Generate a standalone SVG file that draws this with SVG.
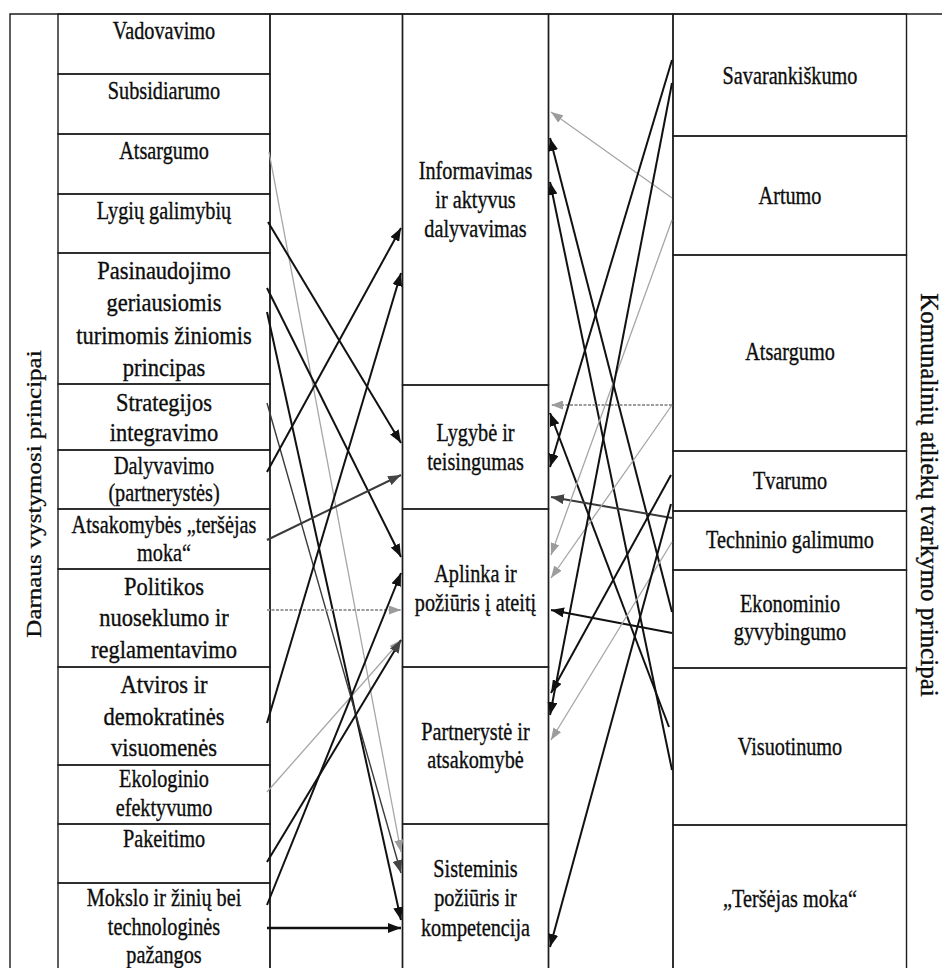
<svg xmlns="http://www.w3.org/2000/svg" width="942" height="968" viewBox="0 0 942 968" font-family="Liberation Serif, Times New Roman, serif">
  <style>
    .box{fill:none;stroke:#1c1c1c;stroke-width:1.4}
    .frame{fill:none;stroke:#1c1c1c;stroke-width:1.4}
    .t{font-family:'Liberation Serif','Times New Roman',serif;font-size:25px;fill:#0d0d0d;stroke:#0d0d0d;stroke-width:0.35;text-anchor:middle}
    .c{fill:none;stroke:#111;stroke-width:2}
    .gray{stroke:#a6a6a6;stroke-width:1.3}
    .dash{stroke:#9c9c9c;stroke-width:2.2;stroke-dasharray:3 1.5}
    .dark{stroke:#3a3a3a}
    .thin{stroke-width:1.4}
    .thick{stroke-width:2.5}
  </style>
  <defs>
    <marker id="ah" viewBox="0 0 13 10" refX="13" refY="5" markerWidth="13" markerHeight="10" markerUnits="userSpaceOnUse" orient="auto">
      <path d="M0,0L13,5L0,10z" fill="#111"/>
    </marker>
    <marker id="ah-dark" viewBox="0 0 13 10" refX="13" refY="5" markerWidth="13" markerHeight="10" markerUnits="userSpaceOnUse" orient="auto">
      <path d="M0,0L13,5L0,10z" fill="#444"/>
    </marker>
    <marker id="ah-gray" viewBox="0 0 12 9" refX="12" refY="4.5" markerWidth="12" markerHeight="9" markerUnits="userSpaceOnUse" orient="auto">
      <path d="M0,0L12,4.5L0,9z" fill="#9c9c9c"/>
    </marker>
  </defs>

  <!-- outer frame -->
  <path class="frame" d="M10,980V14H942"/>

  <!-- side labels -->
  <text class="t" transform="translate(41 494) rotate(-90) scale(1 0.8)">Darnaus vystymosi principai</text>
  <text class="t" transform="translate(921 495) rotate(90)">Komunalinių atliekų tvarkymo principai</text>

  <!-- left column: sustainable development principles -->
  <g id="vadovavimo">
    <rect class="box" x="58" y="14" width="212" height="60"/>
    <text class="t" transform="translate(164 39) scale(.81 1)">Vadovavimo</text>
  </g>
  <g id="subsidiarumo">
    <rect class="box" x="58" y="74" width="212" height="60"/>
    <text class="t" transform="translate(164 98.5) scale(.81 1)">Subsidiarumo</text>
  </g>
  <g id="atsargumo-l">
    <rect class="box" x="58" y="134" width="212" height="60"/>
    <text class="t" transform="translate(164 158.5) scale(.81 1)">Atsargumo</text>
  </g>
  <g id="lygiu-galimybiu">
    <rect class="box" x="58" y="194" width="212" height="59"/>
    <text class="t" transform="translate(164 218.5) scale(.81 1)">Lygių galimybių</text>
  </g>
  <g id="pasinaudojimo">
    <rect class="box" x="58" y="253" width="212" height="131"/>
    <text class="t" transform="translate(164 279) scale(.9 1)"><tspan x="0">Pasinaudojimo</tspan><tspan x="0" dy="32.3">geriausiomis</tspan><tspan x="0" dy="32.3">turimomis žiniomis</tspan><tspan x="0" dy="32.3">principas</tspan></text>
  </g>
  <g id="strategijos">
    <rect class="box" x="58" y="384" width="212" height="66"/>
    <text class="t" transform="translate(164 410.5) scale(.9 1)"><tspan x="0">Strategijos</tspan><tspan x="0" dy="31">integravimo</tspan></text>
  </g>
  <g id="dalyvavimo">
    <rect class="box" x="58" y="450" width="212" height="59"/>
    <text class="t" transform="translate(164 474) scale(.81 1)"><tspan x="0">Dalyvavimo</tspan><tspan x="0" dy="27.5">(partnerystės)</tspan></text>
  </g>
  <g id="atsakomybes">
    <rect class="box" x="58" y="509" width="212" height="60"/>
    <text class="t" transform="translate(164 533) scale(.81 1)"><tspan x="0">Atsakomybės „teršėjas</tspan><tspan x="0" dy="28.5">moka“</tspan></text>
  </g>
  <g id="politikos">
    <rect class="box" x="58" y="569" width="212" height="98"/>
    <text class="t" transform="translate(164 595) scale(.9 1)"><tspan x="0">Politikos</tspan><tspan x="0" dy="31.5">nuoseklumo ir</tspan><tspan x="0" dy="31.5">reglamentavimo</tspan></text>
  </g>
  <g id="atviros">
    <rect class="box" x="58" y="667" width="212" height="98"/>
    <text class="t" transform="translate(164 693) scale(.9 1)"><tspan x="0">Atviros ir</tspan><tspan x="0" dy="31.7">demokratinės</tspan><tspan x="0" dy="31.7">visuomenės</tspan></text>
  </g>
  <g id="ekologinio">
    <rect class="box" x="58" y="765" width="212" height="59"/>
    <text class="t" transform="translate(164 787) scale(.81 1)"><tspan x="0">Ekologinio</tspan><tspan x="0" dy="29">efektyvumo</tspan></text>
  </g>
  <g id="pakeitimo">
    <rect class="box" x="58" y="824" width="212" height="59"/>
    <text class="t" transform="translate(164 846.5) scale(.81 1)">Pakeitimo</text>
  </g>
  <g id="mokslo">
    <rect class="box" x="58" y="883" width="212" height="100"/>
    <text class="t" transform="translate(164 906) scale(.81 1)"><tspan x="0">Mokslo ir žinių bei</tspan><tspan x="0" dy="29">technologinės</tspan><tspan x="0" dy="28">pažangos</tspan></text>
  </g>

  <!-- connector lanes -->
  <rect class="box" x="270" y="14" width="132.5" height="970"/>
  <rect class="box" x="548.5" y="14" width="124.5" height="970"/>

  <!-- middle column -->
  <g id="informavimas">
    <rect class="box" x="402.5" y="14" width="146" height="371"/>
    <text class="t" transform="translate(475.5 179) scale(.81 1)"><tspan x="0">Informavimas</tspan><tspan x="0" dy="29">ir aktyvus</tspan><tspan x="0" dy="29">dalyvavimas</tspan></text>
  </g>
  <g id="lygybe">
    <rect class="box" x="402.5" y="385" width="146" height="124"/>
    <text class="t" transform="translate(475.5 440.5) scale(.81 1)"><tspan x="0">Lygybė ir</tspan><tspan x="0" dy="29.5">teisingumas</tspan></text>
  </g>
  <g id="aplinka">
    <rect class="box" x="402.5" y="509" width="146" height="158"/>
    <text class="t" transform="translate(475.5 582) scale(.81 1)"><tspan x="0">Aplinka ir</tspan><tspan x="0" dy="29.5">požiūris į ateitį</tspan></text>
  </g>
  <g id="partneryste">
    <rect class="box" x="402.5" y="667" width="146" height="157"/>
    <text class="t" transform="translate(475.5 740) scale(.81 1)"><tspan x="0">Partnerystė ir</tspan><tspan x="0" dy="28.5">atsakomybė</tspan></text>
  </g>
  <g id="sisteminis">
    <rect class="box" x="402.5" y="824" width="146" height="160"/>
    <text class="t" transform="translate(475.5 877) scale(.81 1)"><tspan x="0">Sisteminis</tspan><tspan x="0" dy="29.5">požiūris ir</tspan><tspan x="0" dy="29.5">kompetencija</tspan></text>
  </g>

  <!-- right column: municipal waste management principles -->
  <g id="savarankiskumo">
    <rect class="box" x="673" y="14" width="233.5" height="122"/>
    <text class="t" transform="translate(790 83.5) scale(.81 1)">Savarankiškumo</text>
  </g>
  <g id="artumo">
    <rect class="box" x="673" y="136" width="233.5" height="119"/>
    <text class="t" transform="translate(790 203.5) scale(.81 1)">Artumo</text>
  </g>
  <g id="atsargumo-r">
    <rect class="box" x="673" y="255" width="233.5" height="196"/>
    <text class="t" transform="translate(790 360) scale(.81 1)">Atsargumo</text>
  </g>
  <g id="tvarumo">
    <rect class="box" x="673" y="451" width="233.5" height="60"/>
    <text class="t" transform="translate(790 488.5) scale(.81 1)">Tvarumo</text>
  </g>
  <g id="techninio">
    <rect class="box" x="673" y="511" width="233.5" height="59"/>
    <text class="t" transform="translate(790 547.5) scale(.81 1)">Techninio galimumo</text>
  </g>
  <g id="ekonominio">
    <rect class="box" x="673" y="570" width="233.5" height="98"/>
    <text class="t" transform="translate(790 612) scale(.81 1)"><tspan x="0">Ekonominio</tspan><tspan x="0" dy="28">gyvybingumo</tspan></text>
  </g>
  <g id="visuotinumo">
    <rect class="box" x="673" y="668" width="233.5" height="157"/>
    <text class="t" transform="translate(790 755) scale(.81 1)">Visuotinumo</text>
  </g>
  <g id="tersejas">
    <rect class="box" x="673" y="825" width="233.5" height="160"/>
    <text class="t" transform="translate(790 906.5) scale(.81 1)">„Teršėjas moka“</text>
  </g>

  <!-- connectors -->
  <g id="connectors">
    <!-- left to middle -->
    <line class="c gray" x1="269" y1="152" x2="401" y2="852" marker-end="url(#ah-gray)"/>
    <line class="c" x1="268" y1="222" x2="401" y2="443" marker-end="url(#ah)"/>
    <line class="c" x1="267" y1="288" x2="401" y2="557" marker-end="url(#ah)"/>
    <line class="c" x1="267" y1="312" x2="401" y2="920" marker-end="url(#ah)"/>
    <line class="c dark thin" x1="267" y1="403" x2="401" y2="873" marker-end="url(#ah-dark)"/>
    <line class="c" x1="267" y1="472" x2="401" y2="228" marker-end="url(#ah)"/>
    <line class="c dark" x1="267" y1="540" x2="401" y2="475" marker-end="url(#ah-dark)"/>
    <line class="c dash" x1="267" y1="610" x2="401" y2="610" marker-end="url(#ah-gray)"/>
    <line class="c" x1="267" y1="723" x2="401" y2="273" marker-end="url(#ah)"/>
    <line class="c gray" x1="267" y1="792" x2="401" y2="640" marker-end="url(#ah-gray)"/>
    <line class="c" x1="267" y1="862" x2="401" y2="640" marker-end="url(#ah-dark)"/>
    <line class="c" x1="267" y1="905" x2="401" y2="573" marker-end="url(#ah)"/>
    <line class="c thick" x1="267" y1="928" x2="401" y2="928" marker-end="url(#ah)"/>
    <!-- right to middle -->
    <line class="c gray" x1="672" y1="198" x2="551" y2="112" marker-end="url(#ah-gray)"/>
    <line class="c" x1="672" y1="612" x2="550" y2="138" marker-end="url(#ah)"/>
    <line class="c" x1="672" y1="770" x2="550" y2="182" marker-end="url(#ah)"/>
    <line class="c dash" x1="672" y1="405" x2="551" y2="405" marker-end="url(#ah-gray)"/>
    <line class="c" x1="669" y1="727" x2="550" y2="413" marker-end="url(#ah)"/>
    <line class="c" x1="672" y1="60" x2="550" y2="467" marker-end="url(#ah)"/>
    <line class="c dark" x1="672" y1="518" x2="551" y2="497" marker-end="url(#ah-dark)"/>
    <line class="c gray" x1="672" y1="220" x2="551" y2="555" marker-end="url(#ah-gray)"/>
    <line class="c gray" x1="672" y1="405" x2="551" y2="578" marker-end="url(#ah-gray)"/>
    <line class="c" x1="672" y1="633" x2="551" y2="610" marker-end="url(#ah)"/>
    <line class="c" x1="671" y1="475" x2="551" y2="693" marker-end="url(#ah)"/>
    <line class="c" x1="672" y1="83" x2="550" y2="715" marker-end="url(#ah)"/>
    <line class="c gray" x1="672" y1="542" x2="551" y2="740" marker-end="url(#ah-gray)"/>
    <line class="c" x1="671" y1="504" x2="550" y2="947" marker-end="url(#ah)"/>
  </g>
</svg>
